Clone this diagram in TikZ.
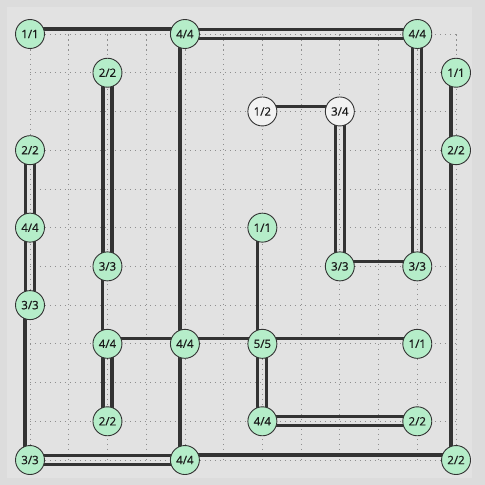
\documentclass[tikz,border=0pt]{standalone}
\usepackage{fontspec}
\newfontfamily\islefont[FakeBold=0.6]{Open Sans}
\usetikzlibrary{backgrounds}
\definecolor{outerbg}{HTML}{DCDCDC}
\definecolor{panel}{HTML}{E2E2E2}
\definecolor{gridgray}{HTML}{8F8F8F}
\definecolor{isle}{HTML}{B5EDC9}
\definecolor{openisle}{HTML}{F2F2F2}
\definecolor{dkgray}{HTML}{333333}
\pgfdeclarelayer{links}
\pgfsetlayers{background,links,main}

\begin{document}
\begin{tikzpicture}[x=38.73pt, y=-38.73pt,
  gridline/.style={gridgray, line width=0.7pt, dash pattern=on 1.5pt off 3.5pt},
  island/.style={circle, draw=dkgray, line width=0.9pt, fill=isle, minimum size=29pt,
    inner sep=0pt, font=\islefont\fontsize{11.5}{12}\selectfont, text=black!90},
  todo/.style={island, fill=openisle},
  bridge/.style={dkgray, line width=3.2pt}]

% Background and dotted grid
\begin{pgfonlayer}{background}
\fill[outerbg] (-0.7746,-0.8779) rectangle (11.748,11.645);
\fill[panel] (-0.594,-0.697) rectangle (11.41,11.46);
\foreach \i in {0,...,11} {
  \draw[gridline] (\i,0) -- (\i,11);
  \draw[gridline] (0,\i) -- (11,\i);
}
\end{pgfonlayer}

% =========== Islands ===========
\node[island] (n0-0) at (0,0) {1/1};
\node[island] (n4-0) at (4,0) {4/4};
\node[island] (n10-0) at (10,0) {4/4};
\node[island] (n2-1) at (2,1) {2/2};
\node[island] (n11-1) at (11,1) {1/1};
\node[todo] (n6-2) at (6,2) {1/2};
\node[todo] (n8-2) at (8,2) {3/4};
\node[island] (n0-3) at (0,3) {2/2};
\node[island] (n11-3) at (11,3) {2/2};
\node[island] (n0-5) at (0,5) {4/4};
\node[island] (n6-5) at (6,5) {1/1};
\node[island] (n2-6) at (2,6) {3/3};
\node[island] (n8-6) at (8,6) {3/3};
\node[island] (n10-6) at (10,6) {3/3};
\node[island] (n0-7) at (0,7) {3/3};
\node[island] (n2-8) at (2,8) {4/4};
\node[island] (n4-8) at (4,8) {4/4};
\node[island] (n6-8) at (6,8) {5/5};
\node[island] (n10-8) at (10,8) {1/1};
\node[island] (n2-10) at (2,10) {2/2};
\node[island] (n6-10) at (6,10) {4/4};
\node[island] (n10-10) at (10,10) {2/2};
\node[island] (n0-11) at (0,11) {3/3};
\node[island] (n4-11) at (4,11) {4/4};
\node[island] (n11-11) at (11,11) {2/2};

% =========== Bridges ===========
\begin{pgfonlayer}{links}
% single, horizontal
\foreach \a/\b in {n0-0/n4-0, n6-2/n8-2, n8-6/n10-6, n2-8/n4-8, n4-8/n6-8,
                   n6-8/n10-8, n4-11/n11-11}
  \draw[bridge] ([yshift=5pt]\a.center) -- ([yshift=5pt]\b.center);
% single, vertical
\foreach \a/\b in {n4-0/n4-8, n4-8/n4-11, n11-1/n11-3, n11-3/n11-11, n0-7/n0-11,
                   n6-5/n6-8, n2-6/n2-8}
  \draw[bridge] ([xshift=-5pt]\a.center) -- ([xshift=-5pt]\b.center);
% double, horizontal
\foreach \a/\b in {n4-0/n10-0, n6-10/n10-10, n0-11/n4-11} {
  \draw[bridge] ([yshift=4.5pt]\a.center) -- ([yshift=4.5pt]\b.center);
  \draw[bridge] ([yshift=-4.5pt]\a.center) -- ([yshift=-4.5pt]\b.center);
}
% double, vertical
\foreach \a/\b in {n10-0/n10-6, n2-1/n2-6, n8-2/n8-6, n0-3/n0-5, n0-5/n0-7,
                   n2-8/n2-10, n6-8/n6-10} {
  \draw[bridge] ([xshift=4.5pt]\a.center) -- ([xshift=4.5pt]\b.center);
  \draw[bridge] ([xshift=-4.5pt]\a.center) -- ([xshift=-4.5pt]\b.center);
}
\end{pgfonlayer}

\end{tikzpicture}
\end{document}
